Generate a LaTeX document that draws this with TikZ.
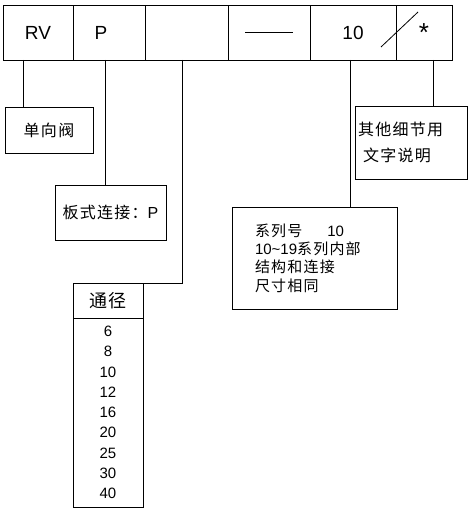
\documentclass[tikz,border=0pt]{standalone}
\usepackage{fontspec}
\setmainfont{Liberation Sans}
\newfontfamily\cjk[LetterSpace=8]{Noto Sans CJK SC}
\newcommand{\zh}[1]{{\cjk #1}}
\usetikzlibrary{positioning}

\begin{document}
\begin{tikzpicture}[
    x=1pt, y=-1pt,
    cell/.style={rectangle, draw, line width=0.8pt, inner sep=0pt, outer sep=0pt,
                 minimum height=55pt, font=\fontsize{19}{22}\selectfont},
    note/.style={rectangle, draw, line width=0.8pt, inner sep=0pt, outer sep=0pt,
                 font=\fontsize{16}{20}\selectfont},
    lead/.style={line width=0.8pt},
]
\useasboundingbox (0,0) rectangle (470,508);

%% Code row (horizontal)
\node[cell, minimum width=70pt] (rv) at (38,32.5) {RV};
\node[cell, minimum width=72pt, right=0pt of rv,
      label={[xshift=-8pt, font=\fontsize{19}{22}\selectfont]center:P}] (p) {};
\node[cell, minimum width=83pt, right=0pt of p] (blank) {};
\node[cell, minimum width=82pt, right=0pt of blank] (dash) {};
\node[cell, minimum width=86pt, right=0pt of dash] (ser) {10};
\node[cell, minimum width=56pt, right=0pt of ser] (star) {\fontsize{26}{26}\selectfont\raisebox{-0.3em}{*}};

\draw[lead] ([xshift=-24pt]dash.center) -- ([xshift=24pt]dash.center);
\draw[lead] ([shift={(28,14.5)}]ser.center) -- ([shift={(65,-20.5)}]ser.center);

%% Explanation boxes
\node[note, minimum width=88pt, minimum height=46pt] (type) at (49,130) {\zh{单向阀}};
\node[note, minimum width=111pt, minimum height=55pt] (conn) at (110.5,212.5) {\zh{板式连接：}P};
\node[note, minimum width=165pt, minimum height=102pt, text width=119pt, align=left,
      font=\fontsize{15}{18.3}\selectfont] (series) at (314.5,258)
      {\zh{系列号}\quad\ \ 10\\10\textasciitilde19\zh{系列内部}\\\zh{结构和连接}\\\zh{尺寸相同}};
\node[note, minimum width=112pt, minimum height=73pt, text width=106pt, align=left,
      font=\fontsize{16}{26}\selectfont] (other) at (411,142.5)
      {\zh{其他细节用}\\\hspace{5pt}\zh{文字说明}};

%% Size table
\node[note, minimum width=70pt, minimum height=35pt, font=\fontsize{18}{20}\selectfont] (dia) at (108,300.5) {\zh{通径}};
\node[note, minimum width=70pt, minimum height=189pt, below=0pt of dia, align=center,
      font=\fontsize{15}{20.25}\selectfont] (vals) {6\\8\\10\\12\\16\\20\\25\\30\\40};

%% Leads
\foreach \nd/\dx in {type/-26, conn/-5.5, series/35.5, other/22}
    \draw[lead] ([xshift=\dx]\nd.north |- rv.south) -- ([xshift=\dx]\nd.north);
\coordinate (bend) at (182,283);
\draw[lead] (blank.south -| bend) -- (bend) -- (dia.north east);

\end{tikzpicture}
\end{document}
